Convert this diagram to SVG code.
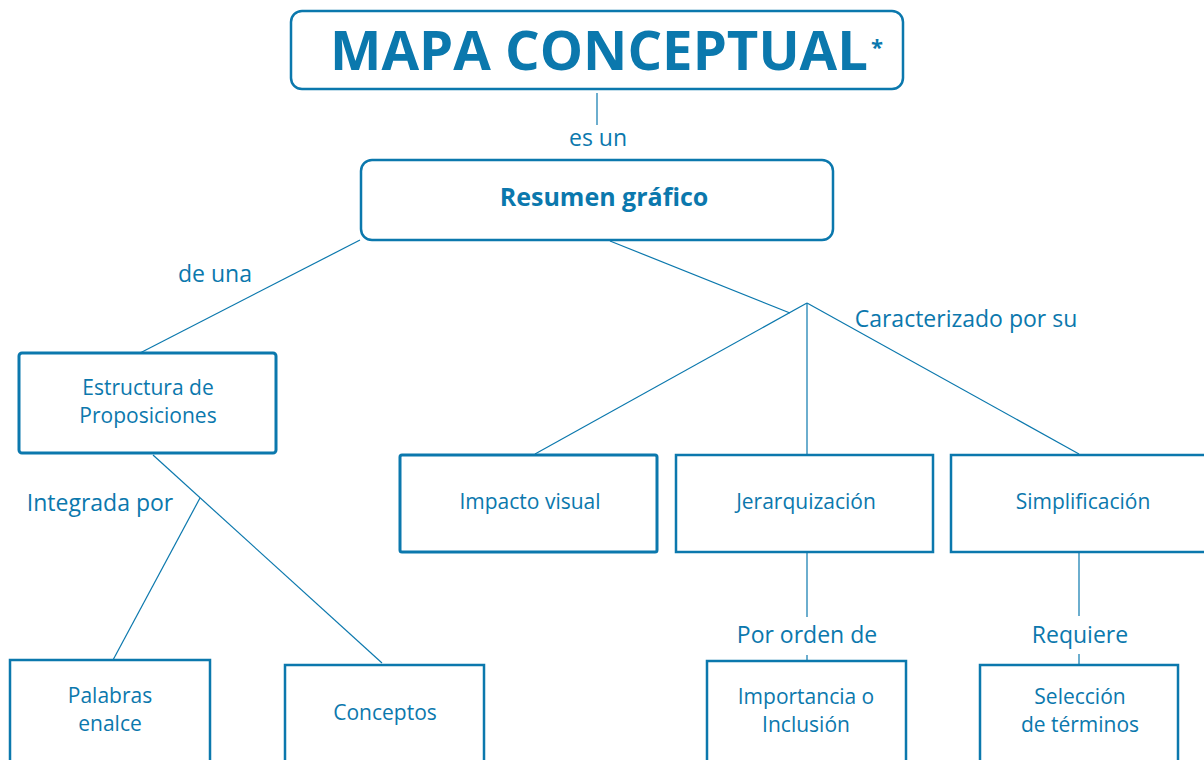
<svg xmlns="http://www.w3.org/2000/svg" width="1204" height="760" viewBox="0 0 1204 760">
<style>
.t{font-family:"Open Sans","Noto Sans","Liberation Sans",sans-serif;fill:#0b78ad;text-anchor:middle}
.box{fill:#fff;stroke:#0b78ad;stroke-width:2.5}
.thick{stroke-width:3}
.c{stroke:#0b78ad;stroke-width:1.2;fill:none}
.lbl{font-size:23px}
.n{font-size:21px}
</style>
<rect width="1204" height="760" fill="#fff"/>
<g id="connectors">
<line class="c" x1="597" y1="93" x2="597" y2="125"/>
<line class="c" x1="360" y1="240" x2="140" y2="353"/>
<line class="c" x1="610" y1="241" x2="790" y2="313"/>
<line class="c" x1="807" y1="303" x2="535" y2="454"/>
<line class="c" x1="807" y1="303" x2="807" y2="454"/>
<line class="c" x1="807" y1="303" x2="1079" y2="454"/>
<line class="c" x1="153" y1="455" x2="382" y2="663"/>
<line class="c" x1="200" y1="498" x2="113" y2="660"/>
<line class="c" x1="807" y1="553" x2="807" y2="617"/>
<line class="c" x1="807" y1="655" x2="807" y2="661"/>
<line class="c" x1="1079" y1="553" x2="1079" y2="616"/>
<line class="c" x1="1079" y1="654" x2="1079" y2="665"/>
<text class="t lbl" x="598" y="146">es un</text>
<text class="t lbl" x="215" y="282">de una</text>
<text class="t lbl" x="966" y="327">Caracterizado por su</text>
<text class="t lbl" x="100" y="511">Integrada por</text>
<text class="t lbl" x="807" y="643">Por orden de</text>
<text class="t lbl" x="1080" y="643">Requiere</text>
</g>
<g id="title">
<rect class="box" x="291" y="11" width="612" height="78" rx="11"/>
<text class="t" x="330" y="70" font-size="54.5" font-weight="bold" style="text-anchor:start">MAPA CONCEPTUAL<tspan font-size="22" dx="3" dy="-15">*</tspan></text>
</g>
<g id="resumen">
<rect class="box" x="361" y="160" width="472" height="80" rx="11"/>
<text class="t" x="604" y="206" font-size="25" font-weight="bold">Resumen gráfico</text>
</g>
<g id="estructura">
<rect class="box thick" x="19" y="353" width="257" height="100" rx="3"/>
<text class="t n" x="148" y="395">Estructura de</text>
<text class="t n" x="148" y="423">Proposiciones</text>
</g>
<g id="palabras">
<rect class="box" x="10" y="660" width="200" height="110"/>
<text class="t n" x="110" y="703">Palabras</text>
<text class="t n" x="110" y="731">enalce</text>
</g>
<g id="conceptos">
<rect class="box" x="285" y="665" width="199" height="110"/>
<text class="t n" x="385" y="720">Conceptos</text>
</g>
<g id="impacto">
<rect class="box thick" x="400" y="455" width="257" height="97" rx="2"/>
<text class="t n" x="530" y="509">Impacto visual</text>
</g>
<g id="jerarquizacion">
<rect class="box" x="676" y="455" width="257" height="97"/>
<text class="t n" x="806" y="509">Jerarquización</text>
</g>
<g id="simplificacion">
<rect class="box" x="951" y="455" width="260" height="97"/>
<text class="t n" x="1083" y="509">Simplificación</text>
</g>
<g id="importancia">
<rect class="box" x="707" y="661" width="199" height="110"/>
<text class="t n" x="806" y="704">Importancia o</text>
<text class="t n" x="806" y="732">Inclusión</text>
</g>
<g id="seleccion">
<rect class="box" x="980" y="665" width="198" height="110"/>
<text class="t n" x="1080" y="704">Selección</text>
<text class="t n" x="1080" y="732">de términos</text>
</g>
</svg>
